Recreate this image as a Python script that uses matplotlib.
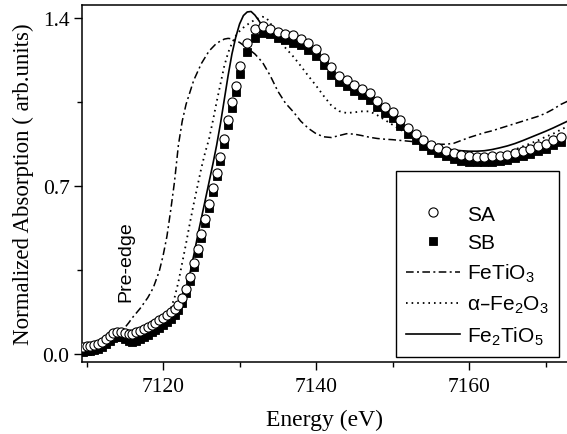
import matplotlib
matplotlib.use("Agg")
import matplotlib.pyplot as plt
from matplotlib.ticker import MultipleLocator

# ---------------- data ----------------
# sample markers (SA open circles, SB filled squares)
E_samp = [7109.5, 7110.0, 7110.5, 7111.0, 7111.5, 7112.0, 7112.5, 7113.0, 7113.5, 7114.0,
          7114.5, 7115.0, 7115.5, 7116.0, 7116.5, 7117.0, 7117.5, 7118.0, 7118.5, 7119.0,
          7119.5, 7120.0, 7120.5, 7121.0, 7121.5, 7122.0, 7122.5, 7123.0, 7123.5, 7124.0,
          7124.5, 7125.0, 7125.5, 7126.0, 7126.5, 7127.0, 7127.5, 7128.0, 7128.5, 7129.0,
          7129.5, 7130.0,
          7131, 7132, 7133, 7134, 7135, 7136, 7137, 7138, 7139, 7140,
          7141, 7142, 7143, 7144, 7145, 7146, 7147, 7148, 7149, 7150,
          7151, 7152, 7153, 7154, 7155, 7156, 7157, 7158, 7159, 7160,
          7161, 7162, 7163, 7164, 7165, 7166, 7167, 7168, 7169, 7170,
          7171, 7172]
SA = [0.030, 0.032, 0.034, 0.037, 0.042, 0.050, 0.062, 0.077, 0.089, 0.094,
      0.094, 0.089, 0.085, 0.085, 0.090, 0.098, 0.106, 0.113, 0.121, 0.130,
      0.140, 0.151, 0.163, 0.175, 0.188, 0.205, 0.232, 0.272, 0.322, 0.378,
      0.438, 0.500, 0.562, 0.625, 0.690, 0.755, 0.820, 0.895, 0.975, 1.050,
      1.115, 1.198,
      1.295, 1.353, 1.367, 1.355, 1.342, 1.335, 1.327, 1.311, 1.296, 1.270,
      1.232, 1.195, 1.160, 1.140, 1.122, 1.103, 1.087, 1.055, 1.031, 1.010,
      0.976, 0.943, 0.915, 0.890, 0.872, 0.858, 0.846, 0.836, 0.828, 0.824,
      0.821, 0.821, 0.823, 0.827, 0.831, 0.837, 0.845, 0.854, 0.865, 0.877,
      0.891, 0.905]
SB = [0.010, 0.012, 0.014, 0.017, 0.022, 0.030, 0.042, 0.056, 0.067, 0.072,
      0.070, 0.063, 0.055, 0.052, 0.055, 0.063, 0.072, 0.081, 0.090, 0.100,
      0.110, 0.121, 0.134, 0.147, 0.162, 0.182, 0.212, 0.255, 0.305, 0.362,
      0.422, 0.485, 0.547, 0.609, 0.675, 0.740, 0.805, 0.877, 0.955, 1.025,
      1.090, 1.165,
      1.260, 1.315, 1.336, 1.333, 1.315, 1.309, 1.295, 1.288, 1.267, 1.240,
      1.205, 1.163, 1.135, 1.115, 1.095, 1.078, 1.060, 1.030, 1.005, 0.983,
      0.950, 0.918, 0.890, 0.866, 0.850, 0.836, 0.824, 0.814, 0.806, 0.801,
      0.799, 0.799, 0.801, 0.805, 0.810, 0.816, 0.824, 0.833, 0.844, 0.856,
      0.870, 0.885]

# reference FeTiO3 (dash-dot)
E_fetio3 = [7109.5, 7111, 7112, 7113, 7114, 7114.5, 7115, 7115.5, 7116, 7117,
            7118, 7118.7, 7119.5, 7120, 7120.5, 7121, 7121.5, 7122, 7122.5, 7123,
            7123.5, 7124, 7125, 7126, 7127, 7128, 7128.5, 7129, 7130, 7131,
            7132, 7133, 7134, 7135, 7136, 7137, 7138, 7139, 7140, 7141,
            7142, 7143, 7144, 7145, 7146, 7147, 7148, 7149, 7150, 7151,
            7152, 7153, 7154, 7155, 7156, 7157, 7158, 7159, 7160, 7161,
            7162, 7163, 7164, 7165, 7166, 7167, 7168, 7169, 7170, 7171,
            7172, 7173]
FeTiO3 = [0.025, 0.035, 0.048, 0.070, 0.090, 0.098, 0.110, 0.130, 0.152, 0.190,
          0.235, 0.275, 0.345, 0.410, 0.490, 0.600, 0.720, 0.870, 0.970, 1.040,
          1.090, 1.140, 1.210, 1.262, 1.295, 1.312, 1.315, 1.313, 1.298, 1.275,
          1.250, 1.215, 1.160, 1.095, 1.045, 1.010, 0.970, 0.940, 0.918, 0.905,
          0.902, 0.910, 0.918, 0.916, 0.910, 0.903, 0.898, 0.895, 0.893, 0.890,
          0.887, 0.884, 0.880, 0.876, 0.874, 0.874, 0.878, 0.890, 0.902, 0.912,
          0.922, 0.930, 0.940, 0.950, 0.960, 0.970, 0.980, 0.990, 1.003, 1.020,
          1.040, 1.055]

# reference alpha-Fe2O3 (dotted)
E_fe2o3 = [7109.5, 7111, 7112, 7113, 7114, 7115, 7116, 7117, 7118, 7119,
           7120, 7120.5, 7121, 7121.5, 7122, 7122.5, 7123, 7123.5, 7124, 7124.5,
           7125, 7125.5, 7126, 7126.5, 7127, 7127.5, 7128, 7128.5, 7129, 7129.5,
           7130, 7130.5, 7131, 7131.5, 7132, 7132.5, 7133, 7133.5, 7134, 7134.5,
           7135, 7135.5, 7136, 7137, 7138, 7139, 7140, 7141, 7142, 7143,
           7144, 7145, 7146, 7147, 7148, 7149, 7150, 7151, 7152, 7153,
           7154, 7155, 7156, 7157, 7158, 7159, 7160, 7161, 7162, 7163,
           7164, 7165, 7166, 7167, 7168, 7169, 7170, 7171, 7172, 7173]
Fe2O3 = [0.020, 0.030, 0.042, 0.065, 0.085, 0.085, 0.085, 0.095, 0.110, 0.130,
         0.155, 0.170, 0.190, 0.235, 0.300, 0.380, 0.460, 0.545, 0.625, 0.700,
         0.775, 0.840, 0.895, 0.970, 1.050, 1.125, 1.200, 1.255, 1.295, 1.325,
         1.345, 1.360, 1.372, 1.383, 1.392, 1.400, 1.405, 1.400, 1.380, 1.350,
         1.320, 1.295, 1.275, 1.240, 1.200, 1.158, 1.118, 1.075, 1.035, 1.012,
         1.004, 1.007, 1.011, 1.011, 0.995, 0.975, 0.955, 0.935, 0.917, 0.900,
         0.885, 0.870, 0.857, 0.845, 0.835, 0.828, 0.823, 0.820, 0.820, 0.822,
         0.830, 0.840, 0.852, 0.865, 0.877, 0.890, 0.905, 0.918, 0.935, 0.950]

# reference Fe2TiO5 (solid)
E_fe2tio5 = [7109.5, 7111, 7112, 7113, 7114, 7115, 7116, 7117, 7118, 7119,
             7120, 7121, 7122, 7122.5, 7123, 7123.5, 7124, 7124.5, 7125, 7125.5,
             7126, 7126.5, 7127, 7127.5, 7128, 7128.5, 7129, 7129.5, 7130, 7130.5,
             7131, 7131.5, 7132, 7132.5, 7133, 7134, 7135, 7136, 7137, 7138,
             7139, 7140, 7141, 7142, 7143, 7144, 7145, 7146, 7147, 7148,
             7149, 7150, 7151, 7152, 7153, 7154, 7155, 7156, 7157, 7158,
             7159, 7160, 7161, 7162, 7163, 7164, 7165, 7166, 7167, 7168,
             7169, 7170, 7171, 7172, 7173]
Fe2TiO5 = [0.022, 0.032, 0.042, 0.062, 0.080, 0.078, 0.074, 0.082, 0.097, 0.115,
           0.135, 0.160, 0.190, 0.215, 0.260, 0.335, 0.410, 0.490, 0.565, 0.640,
           0.715, 0.790, 0.870, 0.960, 1.060, 1.160, 1.250, 1.320, 1.375, 1.410,
           1.425, 1.427, 1.412, 1.390, 1.365, 1.345, 1.330, 1.322, 1.312, 1.298,
           1.280, 1.255, 1.220, 1.180, 1.148, 1.128, 1.110, 1.092, 1.074, 1.045,
           1.020, 0.998, 0.965, 0.935, 0.910, 0.888, 0.872, 0.862, 0.855, 0.850,
           0.847, 0.845, 0.845, 0.847, 0.852, 0.859, 0.867, 0.877, 0.889, 0.902,
           0.915, 0.928, 0.942, 0.957, 0.972]

x_ticks = [7120, 7140, 7160]
y_ticks = [0.0, 0.7, 1.4]
y_tick_labels = ["0.0", "0.7", "1.4"]

# ---------------- plot ----------------
plt.rcParams['mathtext.default'] = 'regular'
serif = ['Liberation Serif', 'DejaVu Serif']
sans = ['Liberation Sans', 'DejaVu Sans']

fig = plt.figure(figsize=(5.67, 4.35), dpi=100)
ax = fig.add_axes([82/567, 1 - 363/435, 1 - 82/567, (363 - 6)/435])

ax.plot(E_fetio3, FeTiO3, color='black', lw=1.1, dashes=(5, 2.2, 1.3, 2.2),
        label='FeTiO$_3$', zorder=2)
ax.plot(E_fe2o3, Fe2O3, color='black', lw=1.3, dashes=(0.9, 2.2),
        label='α–Fe$_2$O$_3$', zorder=2)
ax.plot(E_fe2tio5, Fe2TiO5, color='black', lw=1.2, ls='-',
        label='Fe$_2$TiO$_5$', zorder=2)
h_sb, = ax.plot(E_samp, SB, ls='none', marker='s', ms=5.8, mfc='black', mec='black',
                mew=0.6, label='SB', zorder=3)
h_sa, = ax.plot(E_samp, SA, ls='none', marker='o', ms=6.6, mfc='white', mec='black',
                mew=0.8, label='SA', zorder=4)

ax.set_xlim(7109.4, 7172.8)
ax.set_ylim(-0.033, 1.454)
ax.set_xticks(x_ticks)
ax.xaxis.set_minor_locator(MultipleLocator(10))
ax.set_yticks(y_ticks)
ax.set_yticklabels(y_tick_labels)
ax.yaxis.set_minor_locator(MultipleLocator(0.35))
ax.tick_params(axis='x', which='major', direction='out', length=6, width=1.0,
               labelsize=15.5, pad=5)
ax.tick_params(axis='y', which='major', direction='out', length=6, width=1.0,
               labelsize=15.5, pad=3)
ax.tick_params(which='minor', direction='out', length=3.5, width=1.0)
for lab in ax.get_xticklabels() + ax.get_yticklabels():
    lab.set_family(serif)
for s in ['left', 'bottom', 'top']:
    ax.spines[s].set_linewidth(1.1)
ax.spines['right'].set_visible(False)

ax.set_xlabel('Energy (eV)', family=serif, fontsize=17, labelpad=9)
ax.set_ylabel('Normalized Absorption ( arb.units)', family=serif, fontsize=16.5, labelpad=6)

ax.text(7115.2, 0.39, 'Pre-edge', rotation=90, family=sans, fontsize=14,
        ha='center', va='center')

handles = [h_sa, h_sb] + ax.get_lines()[:3]
labels = ['SA', 'SB', 'FeTiO$_3$', 'α–Fe$_2$O$_3$', 'Fe$_2$TiO$_5$']
leg = ax.legend(handles, labels, loc='lower right', bbox_to_anchor=(0.9835, 0.014),
                prop={'family': sans, 'size': 15}, frameon=True, fancybox=False,
                edgecolor='black', framealpha=1, handlelength=2.6, handletextpad=0.35,
                labelspacing=0.46, borderpad=0.48, borderaxespad=0,
                title=' ', title_fontsize=10)
leg.get_frame().set_linewidth(1.0)

fig.savefig('out.png', dpi=100)
